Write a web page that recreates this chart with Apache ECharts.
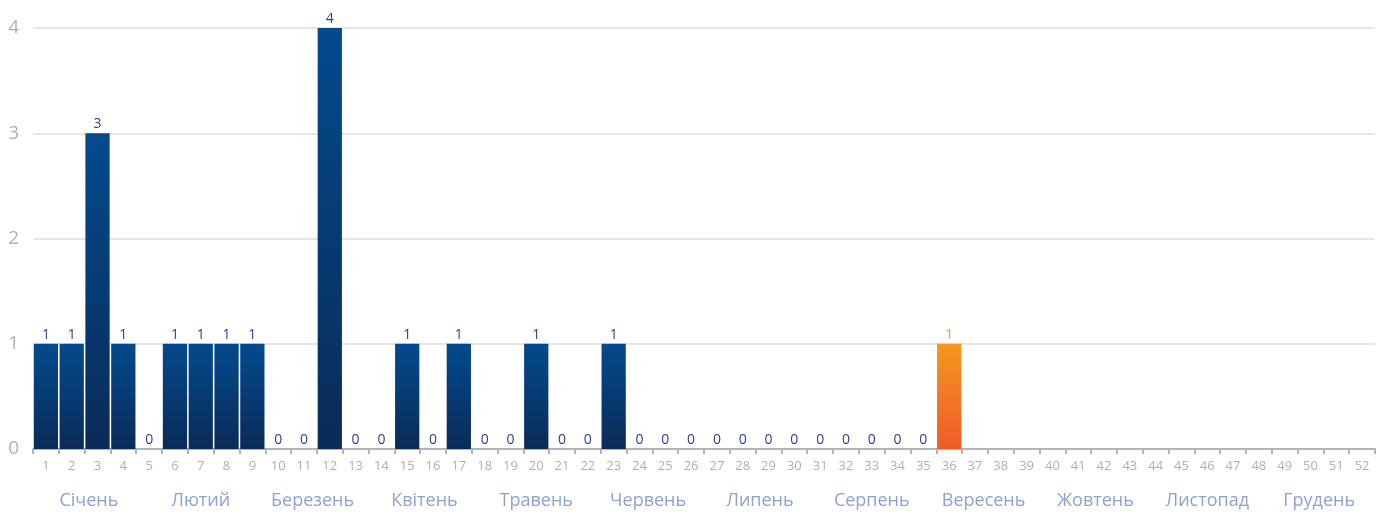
<!DOCTYPE html>
<html>
<head>
<meta charset="utf-8">
<script src="https://cdn.jsdelivr.net/npm/echarts@6/dist/echarts.min.js"></script>
<style>
html,body{margin:0;padding:0;background:#fff;}
#chart{width:1388px;height:518px;}
</style>
</head>
<body>
<div id="chart"></div>
<script>
const weeks = Array.from({length: 52}, (_, i) => String(i + 1));
const months = ['Січень','Лютий','Березень','Квітень','Травень','Червень','Липень','Серпень','Вересень','Жовтень','Листопад','Грудень'];
const values = [1,1,3,1,0,1,1,1,1,0,0,4,0,0,1,0,1,0,0,1,0,0,1,0,0,0,0,0,0,0,0,0,0,0,0,1,
  null,null,null,null,null,null,null,null,null,null,null,null,null,null,null,null];
const highlightWeek = 36;
const yTicks = [0,1,2,3,4];

const blueGrad = new echarts.graphic.LinearGradient(0,0,0,1,[{offset:0,color:'#034a8e'},{offset:1,color:'#0a2b57'}]);
const orangeGrad = new echarts.graphic.LinearGradient(0,0,0,1,[{offset:0,color:'#f7961e'},{offset:1,color:'#ee5b29'}]);

const data = values.map((v, i) => {
  if (i + 1 === highlightWeek) {
    return {value: v, itemStyle: {color: orangeGrad}, label: {color: '#f7961e'}};
  }
  return v === null ? '-' : v;
});

const chart = echarts.init(document.getElementById('chart'));
chart.setOption({
  animation: false,
  textStyle: {fontFamily: 'Open Sans'},
  grid: {left: 33, right: 13, top: 28, bottom: 69},
  xAxis: [{
    type: 'category',
    data: weeks,
    axisLine: {lineStyle: {color: '#b3b3b3', width: 2}},
    axisTick: {show: true, length: 5, lineStyle: {color: '#b3b3b3', width: 2}},
    axisLabel: {color: '#b0b0b0', fontSize: 13, margin: 11, interval: 0, fontFamily: 'Open Sans'}
  }, {
    type: 'category',
    data: months,
    position: 'bottom',
    axisLine: {show: false},
    axisTick: {show: false},
    axisLabel: {color: '#8ea2d2', fontSize: 18, margin: 43, interval: 0, fontFamily: 'Open Sans'}
  }],
  yAxis: {
    type: 'value',
    min: yTicks[0],
    max: yTicks[yTicks.length - 1],
    interval: 1,
    axisLine: {show: false},
    axisTick: {show: false},
    axisLabel: {color: '#b0b0b0', fontSize: 19, margin: 14, fontFamily: 'Open Sans'},
    splitLine: {lineStyle: {color: '#e6e6e6', width: 2}}
  },
  series: [{
    type: 'bar',
    data: data,
    xAxisIndex: 0,
    barCategoryGap: '6%',
    itemStyle: {color: blueGrad},
    label: {show: true, position: 'top', distance: 2, color: '#2b3f94', fontSize: 14, fontFamily: 'Open Sans'}
  }]
});
</script>
</body>
</html>
